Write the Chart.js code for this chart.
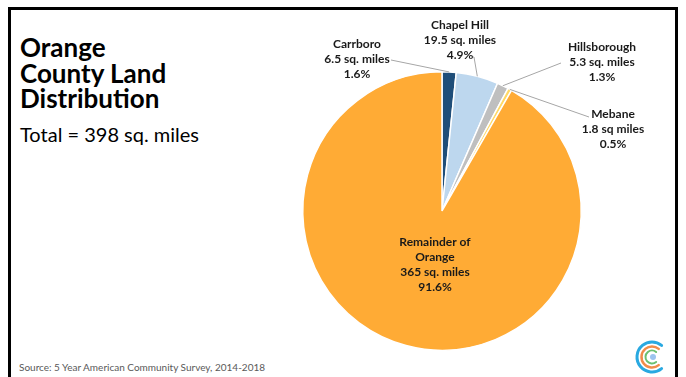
<!DOCTYPE html>
<html>
<head>
<meta charset="utf-8">
<script src="https://cdn.jsdelivr.net/npm/chart.js@4.4.1/dist/chart.umd.min.js"></script>
<style>
  html, body { margin: 0; padding: 0; background: #fff; }
  body { width: 686px; height: 377px; position: relative; overflow: hidden; font-family: Lato, "Open Sans", sans-serif; }
  .frame { position: absolute; left: 8px; top: 7px; width: 664px; height: 400px; border: 3px solid #000; }
  .title { position: absolute; left: 20px; top: 35px; font-size: 26px; font-weight: 700; line-height: 25.5px; color: #000; }
  .total { position: absolute; left: 20px; top: 122px; font-size: 20px; color: #000; }
  .source { position: absolute; left: 19px; top: 361px; font-size: 10px; color: #595959; }
  #wrap { position: absolute; left: 0; top: 0; width: 686px; height: 377px; }
</style>
</head>
<body>
<div class="frame"></div>
<div class="title">Orange<br>County Land<br>Distribution</div>
<div class="total">Total = 398 sq. miles</div>
<div class="source">Source: 5 Year American Community Survey, 2014-2018</div>
<div id="wrap"><canvas id="pieChart" width="686" height="377"></canvas></div>
<script>
  // data
  const places = ['Carrboro', 'Chapel Hill', 'Hillsborough', 'Mebane', 'Remainder of Orange'];
  const sqMiles = [6.5, 19.5, 5.3, 1.8, 365];
  const areaText = ['6.5 sq. miles', '19.5 sq. miles', '5.3 sq. miles', '1.8 sq miles', '365 sq. miles'];
  const shares = ['1.6%', '4.9%', '1.3%', '0.5%', '91.6%'];
  const colors = ['#1f4e79', '#bdd7ee', '#bfbfbf', '#ffd966', '#ffab35'];

  // where each label block sits (center x, first line y) and where its leader line ends
  const labelBox = [
    { x: 357, y: 44, line: [391, 60] },
    { x: 460, y: 25, line: [472, 57] },
    { x: 602, y: 47, line: [561, 63] },
    { x: 613, y: 114, line: [589, 117] },
    { x: 435, y: 242, line: null }
  ];
  const labelLines = [
    ['Carrboro', areaText[0], shares[0]],
    ['Chapel Hill', areaText[1], shares[1]],
    ['Hillsborough', areaText[2], shares[2]],
    ['Mebane', areaText[3], shares[3]],
    ['Remainder of', 'Orange', areaText[4], shares[4]]
  ];

  const labelPlugin = {
    id: 'pieLabels',
    afterDatasetsDraw(chart) {
      const c = chart.ctx;
      const arcs = chart.getDatasetMeta(0).data;
      c.save();
      // leader lines from slice edge midpoint
      c.strokeStyle = '#a6a6a6';
      c.lineWidth = 1;
      arcs.forEach((arc, i) => {
        const box = labelBox[i];
        if (!box.line) return;
        const mid = (arc.startAngle + arc.endAngle) / 2;
        const px = arc.x + Math.cos(mid) * arc.outerRadius;
        const py = arc.y + Math.sin(mid) * arc.outerRadius;
        c.beginPath();
        c.moveTo(box.line[0], box.line[1]);
        if (i === 1) c.lineTo(box.line[0] + 2, box.line[1]);
        c.lineTo(px, py);
        c.stroke();
      });
      // text
      c.fillStyle = '#1a1a1a';
      c.font = 'bold 12px Lato, sans-serif';
      c.textAlign = 'center';
      c.textBaseline = 'middle';
      labelLines.forEach((lines, i) => {
        const box = labelBox[i];
        lines.forEach((t, k) => c.fillText(t, box.x, box.y + k * 15));
      });
      c.restore();
    },
    afterDraw(chart) {
      // small logo, bottom right
      const c = chart.ctx;
      const cx = 652, cy = 357;
      c.save();
      c.lineCap = 'round';
      const rings = [[15, '#29a9e1', 3], [10.5, '#f08c4a', 2.5], [6.5, '#6cc070', 2]];
      rings.forEach(([r, col, w]) => {
        c.strokeStyle = col;
        c.lineWidth = w;
        c.beginPath();
        c.arc(cx, cy, r, Math.PI * 0.28, Math.PI * 1.72);
        c.stroke();
      });
      c.fillStyle = '#9cc3ef';
      c.beginPath();
      c.arc(cx + 1, cy, 3, 0, Math.PI * 2);
      c.fill();
      c.restore();
    }
  };

  const ctx = document.getElementById('pieChart').getContext('2d');
  new Chart(ctx, {
    type: 'pie',
    data: {
      labels: places,
      datasets: [{
        data: sqMiles,
        backgroundColor: colors,
        borderColor: '#ffffff',
        borderWidth: 1.5
      }]
    },
    options: {
      responsive: false,
      animation: false,
      layout: { padding: { left: 302, right: 104, top: 71, bottom: 26 } },
      plugins: {
        legend: { display: false },
        tooltip: { enabled: false }
      }
    },
    plugins: [labelPlugin]
  });
</script>
</body>
</html>
